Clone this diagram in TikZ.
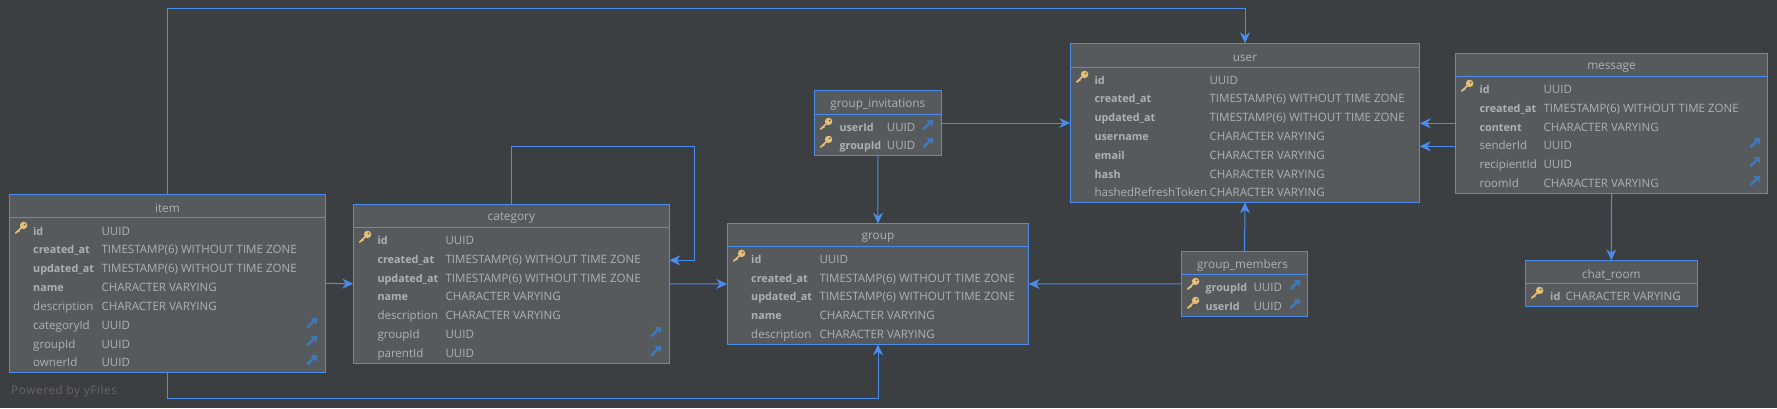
\documentclass[tikz,border=0pt]{standalone}
\usepackage{fontspec}
\setmainfont{Open Sans}
\newfontfamily\logofont[LetterSpace=5]{Open Sans}
\definecolor{FondSchema}{HTML}{3C3F41}
\definecolor{FondTable}{HTML}{565A5D}
\definecolor{BleuLien}{HTML}{4C8CEC}
\definecolor{BleuCle}{HTML}{3F78B8}
\definecolor{JauneCle}{HTML}{E8C077}
\definecolor{GrisTexte}{HTML}{AEB2B4}
\definecolor{GrisLogo}{HTML}{646669}
\usetikzlibrary{arrows.meta}
\newcommand{\gras}{\fontsize{10.8}{12}\bfseries\selectfont}
\tikzset{
	entity/.style={draw=BleuLien,fill=FondTable,line width=1pt,inner sep=0pt,outer sep=0pt},
	titre/.style={text=GrisTexte,font=\fontsize{11.8}{12}\selectfont,inner sep=0pt},
	colnom/.style={text=GrisTexte,font=\fontsize{11.55}{12}\selectfont,anchor=base west,inner sep=0pt,yshift=-4pt},
	coltype/.style={text=GrisTexte,font=\fontsize{11.55}{12}\selectfont,anchor=base west,inner sep=0pt,yshift=-4pt},
	sep/.style={draw=BleuLien,line width=1pt},
	link/.style={->,>={Stealth[length=11pt,width=10pt,inset=3.5pt]},draw=BleuLien,line width=1pt},
	pkey/.pic={
		\fill[JauneCle] (2.6,-2.6) circle (3.7pt);
		\fill[FondTable] (3.6,-3.6) circle (1pt);
		\draw[JauneCle,line width=1.6pt] (1,-1) -- (-5.6,5.4);
		\draw[JauneCle,line width=1.2pt] (-3,2.6) -- (-1.8,4);
	},
	fkey/.pic={
		\draw[BleuCle,line width=2.6pt] (-4.6,4.4) -- (2,-2.2);
		\fill[BleuCle] (-1.4,-5) -- (5,-5) -- (5,1.4) -- cycle;
	}
}
\begin{document}
\begin{tikzpicture}[x=1pt,y=-1pt]
	\fill[FondSchema] (0,0) rectangle (1777,408);
	\useasboundingbox (0,0) rectangle (1777,408);
	%
	\node[text=GrisLogo,font=\logofont\fontsize{11.8}{13}\selectfont,inner sep=0pt,anchor=west] at (11,391.5) (yfiles) {Powered by yFiles};
	%
	%item
	\node[entity,minimum width=315.8pt,minimum height=177.5pt] at (167.4,283.3) (item) {};
	\node[titre] at (167.4,208.5) (itemtitre) {item};
	\draw[sep] (9.5,217.3) -- (325.3,217.3);
	\foreach \i/\y/\nom/\typ in {a/231/\gras id/UUID, b/249.5/\gras created\_at/TIMESTAMP(6) WITHOUT TIME ZONE, c/268/\gras updated\_at/TIMESTAMP(6) WITHOUT TIME ZONE, d/287/\gras name/CHARACTER VARYING, e/306/description/CHARACTER VARYING, f/325/categoryId/UUID, g/344/groupId/UUID, h/362/ownerId/UUID}{
		\node[colnom] at (33,\y) (item\i n) {\nom};
		\node[coltype] at (101.3,\y) (item\i t) {\typ};
	}
	\pic at (21,228) {pkey};
	\foreach \y in {323,341,360} \pic at (312,\y) {fkey};
	%
	%category
	\node[entity,minimum width=316pt,minimum height=159pt] at (511.3,283.8) (category) {};
	\node[titre] at (511.3,218.5) (categorytitre) {category};
	\draw[sep] (353.3,227.3) -- (669.3,227.3);
	\foreach \i/\y/\nom/\typ in {a/240/\gras id/UUID, b/259/\gras created\_at/TIMESTAMP(6) WITHOUT TIME ZONE, c/278/\gras updated\_at/TIMESTAMP(6) WITHOUT TIME ZONE, d/296/\gras name/CHARACTER VARYING, e/315/description/CHARACTER VARYING, f/334/groupId/UUID, g/353/parentId/UUID}{
		\node[colnom] at (377.3,\y) (category\i n) {\nom};
		\node[coltype] at (445.3,\y) (category\i t) {\typ};
	}
	\pic at (365,237) {pkey};
	\foreach \y in {332,351} \pic at (656,\y) {fkey};
	%
	%group
	\node[entity,minimum width=301.4pt,minimum height=120.6pt] at (878,284) (group) {};
	\node[titre] at (878,237.5) (grouptitre) {group};
	\draw[sep] (727.3,246.3) -- (1028.7,246.3);
	\foreach \i/\y/\nom/\typ in {a/259/\gras id/UUID, b/278/\gras created\_at/TIMESTAMP(6) WITHOUT TIME ZONE, c/296/\gras updated\_at/TIMESTAMP(6) WITHOUT TIME ZONE, d/315/\gras name/CHARACTER VARYING, e/334/description/CHARACTER VARYING}{
		\node[colnom] at (751,\y) (group\i n) {\nom};
		\node[coltype] at (819.3,\y) (group\i t) {\typ};
	}
	\pic at (739,256) {pkey};
	%
	%group_invitations
	\node[entity,minimum width=127pt,minimum height=65.4pt] at (877.8,123) (ginvit) {};
	\node[titre] at (877.8,105) (ginvittitre) {group\_invitations};
	\draw[sep] (814.3,114.3) -- (941.3,114.3);
	\foreach \i/\y/\nom in {a/127/userId, b/145/groupId}{
		\node[colnom] at (839.3,\y) (ginvit\i n) {\gras\nom};
		\node[coltype] at (886.7,\y) (ginvit\i t) {UUID};
		\pic at (826,\y-3) {pkey};
		\pic at (928,\y-2) {fkey};
	}
	%
	%user
	\node[entity,minimum width=349.4pt,minimum height=159pt] at (1245,122.8) (user) {};
	\node[titre] at (1245,58.5) (usertitre) {user};
	\draw[sep] (1070.3,67.3) -- (1419.7,67.3);
	\foreach \i/\y/\nom in {a/80/\gras id, b/98/\gras created\_at, c/117/\gras updated\_at, d/136/\gras username, e/155/\gras email, f/174/\gras hash, g/192/hashedRefreshToken}{
		\node[colnom] at (1094.3,\y) (user\i n) {\nom};
	}
	\foreach \i/\y/\typ in {a/80/UUID, b/98/TIMESTAMP(6) WITHOUT TIME ZONE, c/117/TIMESTAMP(6) WITHOUT TIME ZONE, d/136/CHARACTER VARYING, e/155/CHARACTER VARYING, f/174/CHARACTER VARYING, g/192/CHARACTER VARYING}{
		\node[coltype] at (1209.3,\y) (user\i t) {\typ};
	}
	\pic at (1082,77) {pkey};
	%
	%group_members
	\node[entity,minimum width=126.4pt,minimum height=65pt] at (1244.5,283.8) (gmembers) {};
	\node[titre] at (1242.5,265) (gmemberstitre) {group\_members};
	\draw[sep] (1181.3,274.7) -- (1307.7,274.7);
	\foreach \i/\y/\nom in {a/287/groupId, b/306/userId}{
		\node[colnom] at (1205.3,\y) (gmembers\i n) {\gras\nom};
		\node[coltype] at (1253.3,\y) (gmembers\i t) {UUID};
		\pic at (1193,\y-3) {pkey};
		\pic at (1295,\y-2) {fkey};
	}
	%
	%message
	\node[entity,minimum width=312.4pt,minimum height=140pt] at (1611.5,123.3) (message) {};
	\node[titre] at (1611.5,67.5) (messagetitre) {message};
	\draw[sep] (1455.3,76.3) -- (1767.7,76.3);
	\foreach \i/\y/\nom/\typ in {a/89/\gras id/UUID, b/108/\gras created\_at/TIMESTAMP(6) WITHOUT TIME ZONE, c/127/\gras content/CHARACTER VARYING, d/145/senderId/UUID, e/164/recipientId/UUID, f/183/roomId/CHARACTER VARYING}{
		\node[colnom] at (1479.3,\y) (message\i n) {\nom};
		\node[coltype] at (1543.3,\y) (message\i t) {\typ};
	}
	\pic at (1467,86) {pkey};
	\foreach \y in {143,162,181} \pic at (1755,\y) {fkey};
	%
	%chat_room
	\node[entity,minimum width=172pt,minimum height=46pt] at (1611.3,283.3) (chatroom) {};
	\node[titre] at (1611.3,274.5) (chatroomtitre) {chat\_room};
	\draw[sep] (1525.3,283.3) -- (1697.3,283.3);
	\node[colnom] at (1550,296) (chatroomn) {\gras id};
	\node[coltype] at (1565.3,296) (chatroomt) {CHARACTER VARYING};
	\pic at (1537,293) {pkey};
	%
	\coordinate (hautbend) at (700,8.5);
	\coordinate (basbend) at (500,398.3);
	\coordinate (loopa) at (694.3,146.3);
	\coordinate (loopb) at (694.3,260.3);
	\coordinate (msgb) at (1455.3,146.3);
	\draw[link] (item.north) |- (hautbend) -| (user.north);
	\draw[link] (item.south) |- (basbend) -| (group.south);
	\draw[link] (item.east) -- (category.west);
	\draw[link] (category.north) |- (loopa) -- (loopb) -- (loopb -| category.east);
	\draw[link] (category.east) -- (group.west);
	\draw[link] (ginvit.east) -- (ginvit.east -| user.west);
	\draw[link] (ginvit.south) -- (group.north);
	\draw[link] (gmembers.west) -- (group.east);
	\draw[link] (gmembers.north) -- (user.south);
	\draw[link] (message.west) -- (message.west -| user.east);
	\draw[link] (msgb) -- (msgb -| user.east);
	\draw[link] (message.south) -- (chatroom.north);
\end{tikzpicture}
\end{document}
